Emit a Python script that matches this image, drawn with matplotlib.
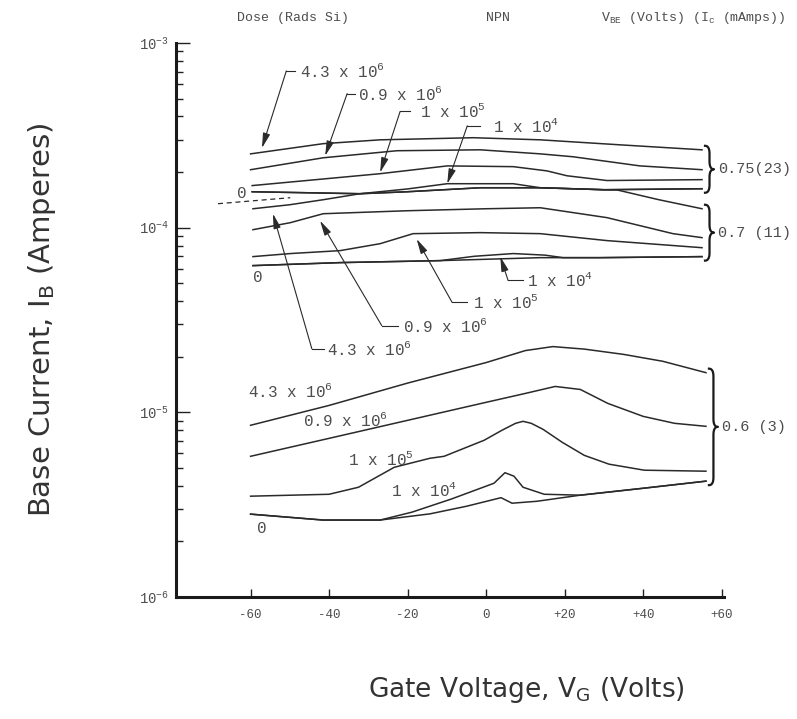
import matplotlib
matplotlib.use('Agg')
import matplotlib.pyplot as plt
import numpy as np
from matplotlib.lines import Line2D

plt.rcParams['font.family'] = ['Liberation Mono', 'DejaVu Sans Mono']

# ---- data: gate voltage (V) vs base current (A) ----
# V_BE = 0.75 V (Ic = 23 mA)
v_075_43e6 = [-60, -41.5, -27, -3.3, 13.8, 34, 55]
i_075_43e6 = [2.51e-4, 2.85e-4, 2.99e-4, 3.07e-4, 2.99e-4, 2.81e-4, 2.64e-4]
v_075_09e6 = [-60, -41.5, -22.7, -1.5, 13.8, 22.2, 39.2, 55]
i_075_09e6 = [2.06e-4, 2.39e-4, 2.61e-4, 2.64e-4, 2.51e-4, 2.42e-4, 2.16e-4, 2.06e-4]
v_075_1e5 = [-59.6, -27, -9.9, 6.9, 15.5, 20.6, 30.8, 55]
i_075_1e5 = [1.69e-4, 1.96e-4, 2.16e-4, 2.14e-4, 2.03e-4, 1.91e-4, 1.80e-4, 1.82e-4]
v_075_1e4 = [-59.6, -32.1, -20.1, -9.9, 6.9, 13.8, 30, 55]
i_075_1e4 = [1.565e-4, 1.527e-4, 1.62e-4, 1.73e-4, 1.73e-4, 1.645e-4, 1.605e-4, 1.625e-4]
v_075_0 = [-59.6, -32.1, -20.1, -1.5, 13.8, 30, 55]
i_075_0 = [1.565e-4, 1.527e-4, 1.565e-4, 1.645e-4, 1.645e-4, 1.605e-4, 1.625e-4]

# V_BE = 0.7 V (Ic = 11 mA)
v_07_43e6 = [-59.4, -50, -41.5, -32.1, -20.1, -1.5, 13.8, 30, 33.4, 44, 55]
i_07_43e6 = [1.266e-4, 1.331e-4, 1.417e-4, 1.527e-4, 1.565e-4, 1.645e-4, 1.645e-4,
             1.605e-4, 1.60e-4, 1.417e-4, 1.266e-4]
v_07_09e6 = [-59.4, -49.9, -41.5, -20.1, 0, 13.8, 30.8, 47.6, 55]
i_07_09e6 = [9.75e-5, 1.064e-4, 1.19e-4, 1.235e-4, 1.266e-4, 1.282e-4, 1.133e-4, 9.28e-5, 8.83e-5]
v_07_1e5 = [-59.4, -49.9, -37.2, -27, -18.6, -1.5, 13.8, 30.8, 55]
i_07_1e5 = [6.97e-5, 7.24e-5, 7.51e-5, 8.19e-5, 9.28e-5, 9.40e-5, 9.28e-5, 8.51e-5, 7.79e-5]
v_07_1e4 = [-59.4, -37, -11.7, -3, 6.9, 15, 19.6, 29, 55]
i_07_1e4 = [6.23e-5, 6.47e-5, 6.63e-5, 7.0e-5, 7.24e-5, 7.1e-5, 6.88e-5, 6.88e-5, 6.97e-5]
v_07_0 = [-59.4, -37, -11.7, 13.8, 29, 55]
i_07_0 = [6.23e-5, 6.47e-5, 6.63e-5, 6.88e-5, 6.88e-5, 6.97e-5]

# V_BE = 0.6 V (Ic = 3 mA)
v_06_43e6 = [-60, -40, -20, 0, 10, 17, 25, 35, 45, 56]
i_06_43e6 = [8.51e-6, 1.09e-5, 1.44e-5, 1.86e-5, 2.16e-5, 2.27e-5, 2.20e-5, 2.06e-5, 1.89e-5, 1.64e-5]
v_06_09e6 = [-60, -40, -20, 0, 10, 17.6, 24, 31, 40, 48, 56]
i_06_09e6 = [5.78e-6, 7.23e-6, 9.05e-6, 1.133e-5, 1.266e-5, 1.381e-5, 1.33e-5, 1.118e-5,
             9.51e-6, 8.72e-6, 8.40e-6]
v_06_1e5 = [-60, -40, -32.5, -23.4, -14.3, -10.7, -0.5, 4, 7.5, 9.4, 11.5, 14.5, 19.4,
            25, 31.3, 40.3, 56]
i_06_1e5 = [3.515e-6, 3.60e-6, 3.93e-6, 5.04e-6, 5.64e-6, 5.78e-6, 7.06e-6, 7.99e-6, 8.72e-6,
            8.94e-6, 8.72e-6, 8.09e-6, 6.88e-6, 5.85e-6, 5.24e-6, 4.86e-6, 4.80e-6]
v_06_1e4 = [-60, -41.5, -27, -18.9, -8.9, 2, 4.8, 7.1, 9.4, 14.8, 24, 40, 56]
i_06_1e4 = [2.81e-6, 2.61e-6, 2.61e-6, 2.88e-6, 3.39e-6, 4.13e-6, 4.71e-6, 4.51e-6, 3.93e-6,
            3.60e-6, 3.56e-6, 3.88e-6, 4.24e-6]
v_06_0 = [-60, -41.5, -27, -14.3, -5, 3.8, 6.6, 13, 24, 40, 56]
i_06_0 = [2.81e-6, 2.61e-6, 2.61e-6, 2.82e-6, 3.10e-6, 3.45e-6, 3.22e-6, 3.30e-6, 3.56e-6,
          3.88e-6, 4.24e-6]

# dashed extension at the left of the 0.75 V set
v_dash = [-68.3, -49.9]
i_dash = [1.348e-4, 1.453e-4]

groups = [
    ('0.75(23)', [(v_075_43e6, i_075_43e6), (v_075_09e6, i_075_09e6), (v_075_1e5, i_075_1e5),
                  (v_075_1e4, i_075_1e4), (v_075_0, i_075_0)]),
    ('0.7 (11)', [(v_07_43e6, i_07_43e6), (v_07_09e6, i_07_09e6), (v_07_1e5, i_07_1e5),
                  (v_07_1e4, i_07_1e4), (v_07_0, i_07_0)]),
    ('0.6 (3)', [(v_06_43e6, i_06_43e6), (v_06_09e6, i_06_09e6), (v_06_1e5, i_06_1e5),
                 (v_06_1e4, i_06_1e4), (v_06_0, i_06_0)]),
]

x_ticks = [-60, -40, -20, 0, 20, 40, 60]
x_ticklabels = ['-60', '-40', '-20', '0', '+20', '+40', '+60']
y_ticks = [1e-6, 1e-5, 1e-4, 1e-3]
y_ticklabels = [r'$\mathregular{10^{-6}}$', r'$\mathregular{10^{-5}}$',
                r'$\mathregular{10^{-4}}$', r'$\mathregular{10^{-3}}$']

line_c = '#2a2a2a'
text_c = '#4d4d4d'

fig = plt.figure(figsize=(7.97, 7.19), dpi=100)
ax = fig.add_axes([176 / 797, 122 / 719, 548 / 797, 554 / 719])
ax.set_yscale('log')
ax.set_xlim(-79, 60.6)
ax.set_ylim(1e-6, 1e-3)

for name, curves in groups:
    for v, i in curves:
        ax.plot(v, i, color=line_c, lw=1.1, clip_on=False)
ax.plot(v_dash, i_dash, color=line_c, lw=0.9, ls=(0, (4, 3)), clip_on=False)

for s in ['top', 'right']:
    ax.spines[s].set_visible(False)
for s in ['left', 'bottom']:
    ax.spines[s].set_linewidth(2.2)
    ax.spines[s].set_color('#1a1a1a')

ax.set_xticks(x_ticks)
ax.set_xticklabels(x_ticklabels)
ax.set_yticks(y_ticks)
ax.set_yticklabels(y_ticklabels)
ax.yaxis.set_minor_locator(matplotlib.ticker.LogLocator(base=10, subs=np.arange(2, 10)))
ax.yaxis.set_minor_formatter(matplotlib.ticker.NullFormatter())
ax.tick_params(axis='x', direction='in', length=6, width=1, pad=9, labelsize=9,
               colors='#222', labelcolor=text_c)
ax.tick_params(axis='y', which='major', direction='in', length=10, width=1, pad=5,
               labelsize=10, colors='#222', labelcolor=text_c)
ax.tick_params(axis='y', which='minor', direction='in', length=5, width=1, colors='#222')

# dose labels with leader lines: label, tip, knee, end of horizontal, text x
leaders = [
    ('4.3 x 10$\\mathregular{^6}$', (-57.1, 2.70e-4), (-50.9, 7.06e-4), -48.7, -47.4),
    ('0.9 x 10$\\mathregular{^6}$', (-41.0, 2.45e-4), (-35.4, 5.32e-4), -33.4, -32.6),
    ('1 x 10$\\mathregular{^5}$', (-27.0, 1.99e-4), (-21.9, 4.26e-4), -19.4, -16.8),
    ('1 x 10$\\mathregular{^4}$', (-9.9, 1.73e-4), (-4.8, 3.56e-4), -1.5, 1.8),
    ('1 x 10$\\mathregular{^4}$', (3.6, 6.97e-5), (5.6, 5.18e-5), 9.4, 10.4),
    ('1 x 10$\\mathregular{^5}$', (-17.7, 8.68e-5), (-8.7, 3.95e-5), -4.9, -3.3),
    ('0.9 x 10$\\mathregular{^6}$', (-42.3, 1.09e-4), (-26.6, 2.95e-5), -22.4, -21.2),
    ('4.3 x 10$\\mathregular{^6}$', (-54.3, 1.19e-4), (-44.4, 2.21e-5), -41.4, -40.6),
]
for lab, tip, knee, hend, tx in leaders:
    ax.plot([knee[0], hend], [knee[1], knee[1]], color=line_c, lw=0.8)
    ax.annotate('', xy=tip, xytext=knee,
                arrowprops=dict(arrowstyle='-|>,head_length=0.9,head_width=0.22',
                                color=line_c, lw=0.8, shrinkA=0, shrinkB=0))
    ax.text(tx, knee[1], lab, fontsize=11.5, color=text_c, va='center', ha='left')

# inline dose labels of the 0.6 V set and the zero-dose labels
inline = [
    ('4.3 x 10$\\mathregular{^6}$', -60.6, 1.30e-5),
    ('0.9 x 10$\\mathregular{^6}$', -46.6, 9.06e-6),
    ('1 x 10$\\mathregular{^5}$', -35.2, 5.57e-6),
    ('1 x 10$\\mathregular{^4}$', -24.2, 3.81e-6),
    ('0', -58.4, 2.36e-6),
    ('0', -59.4, 5.38e-5),
    ('0', -63.5, 1.53e-4),
]
for lab, x, y in inline:
    ax.text(x, y, lab, fontsize=11.5, color=text_c, va='center', ha='left')


def quad(p0, p1, p2, n=14):
    t = np.linspace(0, 1, n)[:, None]
    return (1 - t) ** 2 * np.array(p0) + 2 * (1 - t) * t * np.array(p1) + t ** 2 * np.array(p2)


def brace(ax, v, i_top, i_bot, label):
    x0, yt = ax.transData.transform((v, i_top))
    _, yb = ax.transData.transform((v, i_bot))
    x0 += 3
    yt += 4
    yb -= 4
    w = 4.5
    r = min(8, (yt - yb) / 4)
    ym = (yt + yb) / 2
    pts = np.vstack([quad((x0, yt), (x0 + w, yt), (x0 + w, yt - r)),
                     quad((x0 + w, ym + r), (x0 + w, ym), (x0 + 2 * w, ym)),
                     quad((x0 + 2 * w, ym), (x0 + w, ym), (x0 + w, ym - r)),
                     quad((x0 + w, yb + r), (x0 + w, yb), (x0, yb))])
    f = fig.transFigure.inverted().transform(pts)
    fig.add_artist(Line2D(f[:, 0], f[:, 1], transform=fig.transFigure, color='#1a1a1a', lw=1.6))
    tx, ty = fig.transFigure.inverted().transform((x0 + 2 * w + 4, ym))
    fig.text(tx, ty, label, fontsize=11, color=text_c, va='center', ha='left')


for name, curves in groups:
    ends_v = max(c[0][-1] for c in curves)
    ends_i = [c[1][-1] for c in curves]
    brace(ax, ends_v, max(ends_i), min(ends_i), name)

# headers
fig.text(237 / 797, 1 - 18 / 719, 'Dose (Rads Si)', fontsize=9.5, color=text_c, va='center')
fig.text(486 / 797, 1 - 18 / 719, 'NPN', fontsize=9.5, color=text_c, va='center')
fig.text(601 / 797, 1 - 18 / 719,
         'V$\\mathregular{_{BE}}$ (Volts) (I$\\mathregular{_c}$ (mAmps))',
         fontsize=9.5, color=text_c, va='center')

# axis titles
fig.text(42 / 797, 1 - 320 / 719, 'Base Current, I$\\mathregular{_B}$ (Amperes)',
         family=['DejaVu Sans'], fontsize=21, color='#333', rotation=90,
         ha='center', va='center')
fig.text(526 / 797, 1 - 690 / 719, 'Gate Voltage, V$\\mathregular{_G}$ (Volts)',
         family=['DejaVu Sans'], fontsize=19, color='#333', ha='center', va='center')

fig.savefig('out.png', dpi=100)
